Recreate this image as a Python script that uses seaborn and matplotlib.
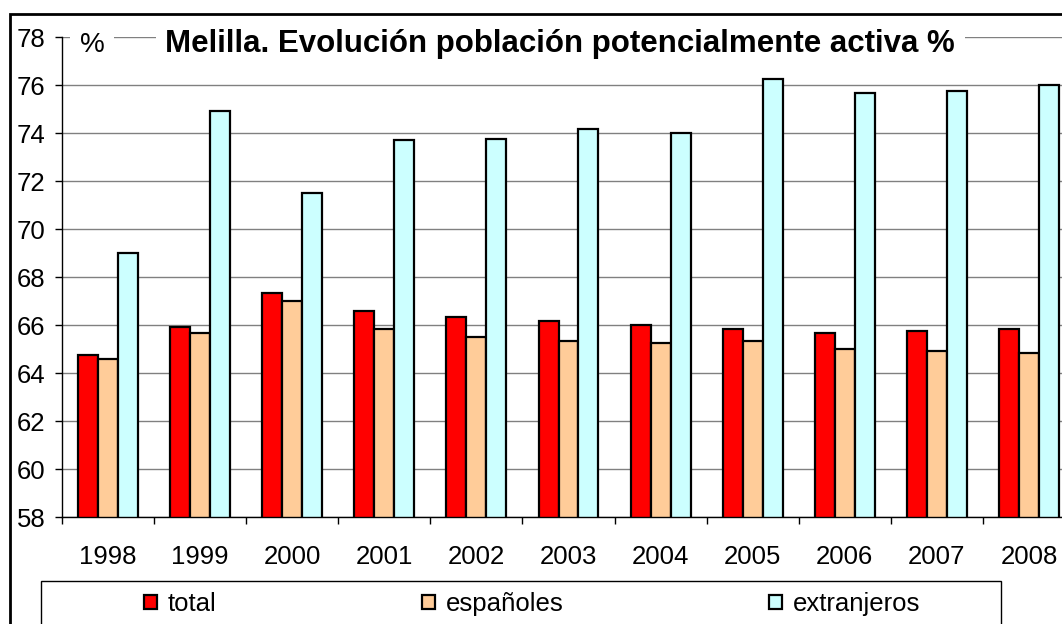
import pandas as pd
import matplotlib.pyplot as plt
import seaborn as sns
from matplotlib.patches import Rectangle

# données
years = ["1998", "1999", "2000", "2001", "2002", "2003", "2004", "2005", "2006", "2007", "2008"]
total = [64.75, 65.9, 67.33, 66.58, 66.33, 66.17, 66.0, 65.83, 65.67, 65.75, 65.83]
espanoles = [64.6, 65.65, 67.0, 65.83, 65.5, 65.33, 65.25, 65.33, 65.0, 64.92, 64.83]
extranjeros = [69.0, 74.9, 71.5, 73.7, 73.75, 74.15, 74.0, 76.25, 75.67, 75.75, 76.0]
series = ["total", "españoles", "extranjeros"]
colors = ["#FF0000", "#FFCC99", "#CCFFFF"]

df = pd.DataFrame({
    "año": years * 3,
    "grupo": [s for s in series for _ in years],
    "valor": total + espanoles + extranjeros,
})

sns.set_style("white")
plt.rcParams["font.family"] = ["Liberation Sans", "DejaVu Sans"]
plt.rcParams["text.color"] = "black"
plt.rcParams["xtick.color"] = "black"
plt.rcParams["ytick.color"] = "black"

W, H = 1062, 624
fig = plt.figure(figsize=(W / 100, H / 100), dpi=100)
ax = fig.add_axes([62 / W, (H - 517) / H, (1075 - 62) / W, 480 / H])

sns.barplot(data=df, x="año", y="valor", hue="grupo", palette=colors, saturation=1,
            edgecolor="black", linewidth=1.6, width=0.65, ax=ax)

ax.set_ylim(58, 78)
ax.set_xlim(-0.5, 10.5)
ax.set_yticks(range(58, 79, 2))
ax.set_xlabel("")
ax.set_ylabel("")
ax.yaxis.grid(True, color="#808080", linewidth=1)
ax.set_axisbelow(True)
for s in ["top", "right"]:
    ax.spines[s].set_visible(False)
for s in ["left", "bottom"]:
    ax.spines[s].set_color("black")
    ax.spines[s].set_linewidth(1)

ax.tick_params(axis="y", direction="out", length=5, width=1, pad=7, labelsize=18.5, left=True)
ax.tick_params(axis="x", which="major", length=0, pad=20, labelsize=18.5)
ax.set_xticks([i + 0.5 for i in range(-1, 11)], minor=True)
ax.tick_params(axis="x", which="minor", direction="out", length=5, width=1, bottom=True)

# titre et "%" sur la grille du haut
ax.text(4.91, 77.375, "Melilla. Evolución población potencialmente activa %",
        ha="center", va="baseline", fontsize=22.5, fontweight="bold",
        bbox=dict(facecolor="white", edgecolor="none", pad=7))
ax.text(-0.174, 77.375, "%", ha="center", va="baseline", fontsize=20,
        bbox=dict(facecolor="white", edgecolor="none", pad=7))

# légende en bas
handles, labels = ax.get_legend_handles_labels()
ax.legend_.remove()
fig.legend(handles, labels, ncol=3, loc="center left",
           bbox_to_anchor=(131 / W, (H - 604) / H), frameon=False, fontsize=18.5,
           borderpad=0, handlelength=0.52, handleheight=0.45, handletextpad=0.4,
           columnspacing=8.0)
fig.add_artist(Rectangle((41 / W, -0.05), (1001 - 41) / W, (H - 581) / H + 0.05,
                         transform=fig.transFigure, fill=False, edgecolor="black",
                         linewidth=1, clip_on=False))
# cadre extérieur
fig.add_artist(Rectangle((10 / W, -0.1), 1.2, (H - 14) / H + 0.1,
                         transform=fig.transFigure, fill=False, edgecolor="black",
                         linewidth=2, clip_on=False))

fig.savefig("out.png", dpi=100)
